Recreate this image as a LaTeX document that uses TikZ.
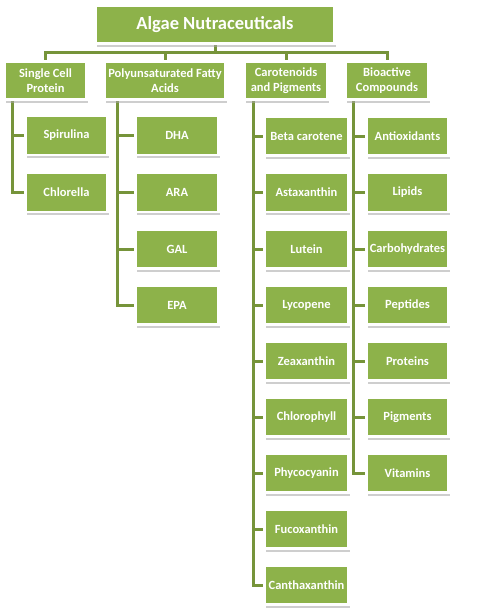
\documentclass[tikz,border=0pt]{standalone}
\usepackage{fontspec}
\setmainfont{Carlito}
\usetikzlibrary{shadows}
\definecolor{boxgreen}{RGB}{141,178,74}
\definecolor{linegreen}{RGB}{118,148,58}
\pgfdeclarelayer{back}
\pgfdeclarelayer{lines}
\pgfsetlayers{back,lines,main}
\begin{document}
\begin{tikzpicture}[x=1pt,y=-1pt,
  box/.style={fill=boxgreen, draw=white, line width=2.6pt, inner sep=0pt,
    text=white, font=\bfseries\fontsize{12.5}{14.5}\selectfont, align=center,
    drop shadow={shadow xshift=1.2pt, shadow yshift=-3pt, fill=black!35, opacity=0.55}},
  topbox/.style={box, minimum width=239pt, minimum height=38pt, font=\bfseries\fontsize{18.5}{21}\selectfont},
  catbox/.style={box, minimum height=38pt},
  kid/.style={box, minimum height=39pt},
  conn/.style={draw=linegreen, line width=3pt}]
\begin{pgfonlayer}{back}
\useasboundingbox (0,0) rectangle (486,614);
\fill[white] (0,0) rectangle (486,614);
\end{pgfonlayer}

% root
\node[topbox] (root) at (215,24.5) {Algae Nutraceuticals};

% level 1
\node[catbox, minimum width=82pt] (scp) at (45.5,80.5) {Single Cell\\Protein};
\node[catbox, minimum width=121pt] (pufa) at (165,80.5) {Polyunsaturated Fatty\\Acids};
\node[catbox, minimum width=83pt] (car) at (286,80.5) {Carotenoids\\and Pigments};
\node[catbox, minimum width=83pt] (bio) at (387,80.5) {Bioactive\\Compounds};

% single cell protein
\node[kid, minimum width=82pt] (spir) at (66.5,135.5) {Spirulina};
\node[kid, minimum width=82pt] (chlo) at (66.5,192.5) {Chlorella};

% PUFA
\node[kid, minimum width=83pt] (dha) at (177,135.5) {DHA};
\node[kid, minimum width=83pt] (ara) at (177,192.5) {ARA};
\node[kid, minimum width=83pt] (gal) at (177,249) {GAL};
\node[kid, minimum width=83pt] (epa) at (177,305) {EPA};

% carotenoids
\node[kid, minimum width=84pt] (beta) at (306.5,136) {Beta carotene};
\node[kid, minimum width=84pt] (asta) at (306.5,192.5) {Astaxanthin};
\node[kid, minimum width=84pt] (lute) at (306.5,249) {Lutein};
\node[kid, minimum width=84pt] (lyco) at (306.5,305) {Lycopene};
\node[kid, minimum width=84pt] (zea) at (306.5,361) {Zeaxanthin};
\node[kid, minimum width=84pt] (chph) at (306.5,417) {Chlorophyll};
\node[kid, minimum width=84pt] (phyc) at (306.5,473) {Phycocyanin};
\node[kid, minimum width=84pt] (fuco) at (306.5,529) {Fucoxanthin};
\node[kid, minimum width=84pt] (cant) at (306.5,585) {Canthaxanthin};

% bioactive
\node[kid, minimum width=82pt] (anti) at (407.5,136) {Antioxidants};
\node[kid, minimum width=82pt] (lipi) at (407.5,192.5) {Lipids};
\node[kid, minimum width=82pt] (carb) at (407.5,249) {Carbohydrates};
\node[kid, minimum width=82pt] (pept) at (407.5,305) {Peptides};
\node[kid, minimum width=82pt] (prot) at (407.5,361) {Proteins};
\node[kid, minimum width=82pt] (pigm) at (407.5,417) {Pigments};
\node[kid, minimum width=82pt] (vita) at (407.5,473) {Vitamins};

% connectors (behind boxes)
\coordinate (bus) at (0,52);
\coordinate (xs) at (12,0);
\coordinate (xp) at (117,0);
\coordinate (xc) at (253,0);
\coordinate (xb) at (353,0);
\begin{pgfonlayer}{lines}
\draw[conn] (root.center) -- (root.center |- bus);
\draw[conn] (scp.center) -- (scp.center |- bus) -- (bio.center |- bus) -- (bio.center);
\draw[conn] (pufa.center) -- (pufa.center |- bus);
\draw[conn] (car.center) -- (car.center |- bus);
\foreach \k in {spir,chlo} \draw[conn] (scp.center -| xs) |- (\k.center);
\foreach \k in {dha,ara,gal,epa} \draw[conn] (pufa.center -| xp) |- (\k.center);
\foreach \k in {beta,asta,lute,lyco,zea,chph,phyc,fuco,cant} \draw[conn] (car.center -| xc) |- (\k.center);
\foreach \k in {anti,lipi,carb,pept,prot,pigm,vita} \draw[conn] (bio.center -| xb) |- (\k.center);
\end{pgfonlayer}
\end{tikzpicture}
\end{document}
